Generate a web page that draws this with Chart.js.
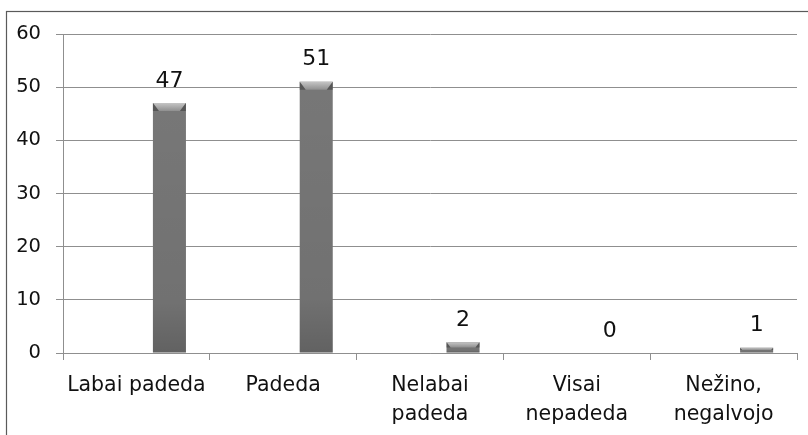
<!DOCTYPE html>
<html>
<head>
<meta charset="utf-8">
<script src="https://cdn.jsdelivr.net/npm/chart.js@4.4.1/dist/chart.umd.min.js"></script>
<style>
  html, body { margin: 0; padding: 0; background: #ffffff; }
  #wrap { width: 808px; height: 435px; position: relative; }
</style>
</head>
<body>
<div id="wrap"><canvas id="c" width="808" height="435"></canvas></div>
<script>
// Answer categories (two-line labels are split into arrays)
const categories = [
  'Labai padeda',
  'Padeda',
  ['Nelabai', 'padeda'],
  ['Visai', 'nepadeda'],
  ['Nežino,', 'negalvojo']
];
// Number of respondents per answer
const counts = [47, 51, 2, 0, 1];
// Empty series that occupy the first two slots of each group
const emptyA = [null, null, null, null, null];
const emptyB = [null, null, null, null, null];
// Y axis ticks
const yMin = 0, yMax = 60, yStep = 10;

const FONT = "'DejaVu Sans', Verdana, sans-serif";

// Gray cylinder-like fill for the bars
function barFill(ctx) {
  const chart = ctx.chart;
  const el = chart.getDatasetMeta(ctx.datasetIndex).data[ctx.dataIndex];
  if (!el || !isFinite(el.x)) return '#777777';
  const half = el.width / 2;
  const g = chart.ctx.createLinearGradient(el.x - half, 0, el.x + half, 0);
  g.addColorStop(0, '#4e4e4e');
  g.addColorStop(0.12, '#6a6a6a');
  g.addColorStop(0.5, '#7e7e7e');
  g.addColorStop(0.88, '#6a6a6a');
  g.addColorStop(1, '#4e4e4e');
  return g;
}

// Frame around the whole chart
const framePlugin = {
  id: 'frame',
  beforeDraw(chart) {
    const c = chart.ctx;
    c.save();
    c.strokeStyle = '#5a5a5a';
    c.lineWidth = 1.2;
    c.strokeRect(6.5, 11.5, 820, 440);
    c.restore();
  }
};

// Bevelled top on each bar and the value written above it
const barDecor = {
  id: 'barDecor',
  afterDatasetsDraw(chart) {
    const c = chart.ctx;
    const meta = chart.getDatasetMeta(2);
    meta.data.forEach((bar, i) => {
      const v = counts[i];
      const left = bar.x - bar.width / 2;
      const right = bar.x + bar.width / 2;
      const top = bar.y;
      const bottom = bar.base;
      const h = bottom - top;
      c.save();
      if (h > 1) {
        // darker lower end
        const vg = c.createLinearGradient(0, top, 0, bottom);
        vg.addColorStop(0, 'rgba(0,0,0,0)');
        vg.addColorStop(0.8, 'rgba(0,0,0,0.05)');
        vg.addColorStop(1, 'rgba(0,0,0,0.18)');
        c.fillStyle = vg;
        c.fillRect(left, top, right - left, h);
        // bevel
        const bh = Math.min(8, h / 2);
        const inset = Math.min(6, bh * 0.8);
        const bg = c.createLinearGradient(0, top, 0, top + bh);
        bg.addColorStop(0, '#c4c4c4');
        bg.addColorStop(1, '#8e8e8e');
        c.fillStyle = bg;
        c.beginPath();
        c.moveTo(left, top);
        c.lineTo(right, top);
        c.lineTo(right - inset, top + bh);
        c.lineTo(left + inset, top + bh);
        c.closePath();
        c.fill();
        // shaded sides of the bevel
        c.fillStyle = 'rgba(60,60,60,0.55)';
        c.beginPath();
        c.moveTo(left, top);
        c.lineTo(left + inset, top + bh);
        c.lineTo(left, top + bh);
        c.closePath();
        c.fill();
        c.beginPath();
        c.moveTo(right, top);
        c.lineTo(right - inset, top + bh);
        c.lineTo(right, top + bh);
        c.closePath();
        c.fill();
      }
      // value label
      c.fillStyle = '#111111';
      c.font = '22px ' + FONT;
      c.textAlign = 'center';
      c.textBaseline = 'alphabetic';
      c.fillText(String(v), bar.x, top - 16.5);
      c.restore();
    });
  }
};

new Chart(document.getElementById('c'), {
  type: 'bar',
  data: {
    labels: categories,
    datasets: [
      { data: emptyA, backgroundColor: 'transparent' },
      { data: emptyB, backgroundColor: 'transparent' },
      { data: counts, backgroundColor: barFill, borderWidth: 0 }
    ]
  },
  options: {
    responsive: false,
    animation: false,
    events: [],
    layout: { padding: { left: 0, top: 34, right: 11, bottom: 0 } },
    plugins: { legend: { display: false }, tooltip: { enabled: false } },
    datasets: { bar: { categoryPercentage: 0.675, barPercentage: 1.0 } },
    scales: {
      x: {
        offset: true,
        grid: {
          offset: true,
          drawOnChartArea: false,
          drawTicks: true,
          tickLength: 7,
          color: '#8f8f8f'
        },
        border: { display: true, color: '#8f8f8f' },
        ticks: {
          color: '#111111',
          font: { family: FONT, size: 20.5, lineHeight: 1.4 },
          padding: 11.5,
          maxRotation: 0,
          autoSkip: false
        },
        afterFit(scale) { scale.height = 82; }
      },
      y: {
        min: yMin,
        max: yMax,
        grid: { color: '#8f8f8f', tickLength: 7 },
        border: { display: true, color: '#8f8f8f' },
        ticks: {
          stepSize: yStep,
          color: '#111111',
          font: { family: FONT, size: 19.5 },
          padding: 15
        },
        afterFit(scale) { scale.width = 63; }
      }
    }
  },
  plugins: [framePlugin, barDecor]
});
</script>
</body>
</html>
